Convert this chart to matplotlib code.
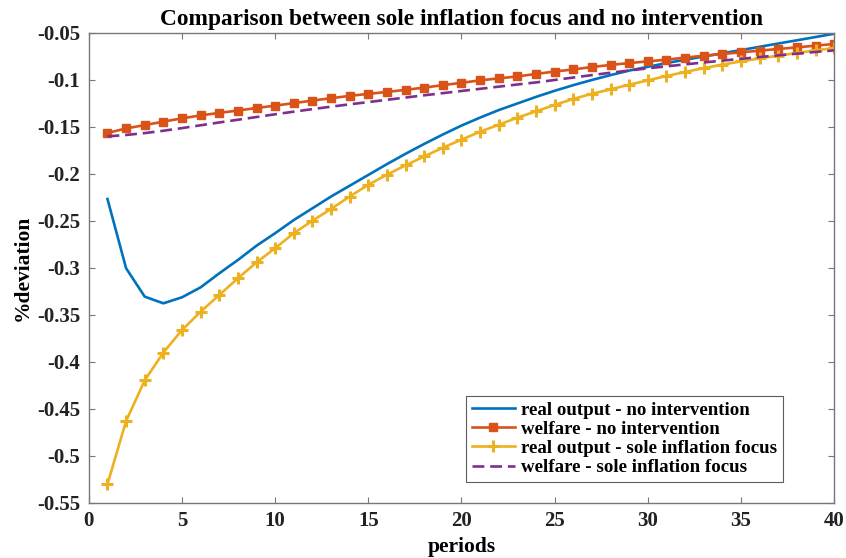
import numpy as np
import matplotlib
matplotlib.use("Agg")
import matplotlib.pyplot as plt

plt.rcParams['font.family'] = ['Liberation Serif', 'DejaVu Serif']
plt.rcParams['font.weight'] = 'bold'

periods = np.arange(1, 41)

# real output - no intervention
output_no_int = [-0.2266, -0.3003, -0.3305, -0.3376, -0.3312, -0.3206, -0.3057, -0.2915,
                 -0.2763, -0.2630, -0.2490, -0.2365, -0.2240, -0.2125, -0.2010, -0.1895,
                 -0.1785, -0.1680, -0.1580, -0.1485, -0.1400, -0.1320, -0.1250, -0.1180,
                 -0.1115, -0.1055, -0.1000, -0.0948, -0.0900, -0.0860, -0.0820, -0.0785,
                 -0.0750, -0.0716, -0.0682, -0.0647, -0.0612, -0.0578, -0.0543, -0.0508]

# welfare - no intervention
welfare_no_int = [-0.1564, -0.1515, -0.1480, -0.1443, -0.1408, -0.1377, -0.1350, -0.1325,
                  -0.1298, -0.1273, -0.1246, -0.1219, -0.1194, -0.1169, -0.1148, -0.1127,
                  -0.1105, -0.1081, -0.1055, -0.1030, -0.1004, -0.0983, -0.0962, -0.0936,
                  -0.0910, -0.0888, -0.0862, -0.0840, -0.0820, -0.0802, -0.0784, -0.0762,
                  -0.0742, -0.0724, -0.0706, -0.0688, -0.0670, -0.0653, -0.0635, -0.0617]

# real output - sole inflation focus
output_infl = [-0.5300, -0.4628, -0.4195, -0.3900, -0.3660, -0.3465, -0.3287, -0.3110,
               -0.2940, -0.2790, -0.2630, -0.2497, -0.2372, -0.2240, -0.2115, -0.2007,
               -0.1908, -0.1813, -0.1720, -0.1635, -0.1550, -0.1476, -0.1400, -0.1334,
               -0.1265, -0.1202, -0.1146, -0.1100, -0.1050, -0.1004, -0.0958, -0.0915,
               -0.0874, -0.0837, -0.0802, -0.0771, -0.0741, -0.0713, -0.0685, -0.0660]

# welfare - sole inflation focus
welfare_infl = [-0.1600, -0.1585, -0.1565, -0.1540, -0.1512, -0.1482, -0.1452, -0.1423,
                -0.1394, -0.1365, -0.1337, -0.1310, -0.1284, -0.1259, -0.1235, -0.1211,
                -0.1187, -0.1163, -0.1140, -0.1117, -0.1094, -0.1071, -0.1048, -0.1026,
                -0.1000, -0.0974, -0.0948, -0.0923, -0.0899, -0.0876, -0.0855, -0.0834,
                -0.0814, -0.0794, -0.0775, -0.0756, -0.0738, -0.0720, -0.0702, -0.0685]

xticks = [0, 5, 10, 15, 20, 25, 30, 35, 40]
yticks = [-0.55, -0.5, -0.45, -0.4, -0.35, -0.3, -0.25, -0.2, -0.15, -0.1, -0.05]
ytick_labels = ['-0.55', '-0.5', '-0.45', '-0.4', '-0.35', '-0.3', '-0.25', '-0.2',
                '-0.15', '-0.1', '-0.05']

fig = plt.figure(figsize=(8.46, 5.58), dpi=100)
ax = fig.add_axes([0.105, 0.0986, 0.881, 0.8423])

ax.plot(periods, output_no_int, color='#0072BD', lw=1.9,
        label='real output - no intervention')
ax.plot(periods, welfare_no_int, color='#D95319', lw=1.9, marker='s', ms=6,
        label='welfare - no intervention')
ax.plot(periods, output_infl, color='#EDB120', lw=1.9, marker='+', ms=8, mew=2.2,
        label='real output - sole inflation focus')
ax.plot(periods, welfare_infl, color='#7E2F8E', lw=1.9, dashes=(4.5, 2.2),
        label='welfare - sole inflation focus')

ax.set_xlim(0, 40)
ax.set_ylim(-0.55, -0.05)
ax.set_xticks(xticks)
ax.set_yticks(yticks)
ax.set_yticklabels(ytick_labels)
ax.tick_params(direction='in', length=4, width=0.8, color='#777777', labelcolor='#222222',
               labelsize=15, top=True, right=True, pad=6)
for s in ax.spines.values():
    s.set_color('#777777')
    s.set_linewidth(1)

ax.set_title('Comparison between sole inflation focus and no intervention',
             fontsize=16.8, fontweight='bold', pad=6)
ax.set_xlabel('periods', fontsize=15.5, fontweight='bold', labelpad=4)
ax.set_ylabel('%deviation', fontsize=15.5, fontweight='bold', labelpad=3)

leg = ax.legend(loc='lower left', bbox_to_anchor=(0.506, 0.045), fontsize=13.6,
                frameon=True, fancybox=False, handlelength=2.3, handletextpad=0.3,
                labelspacing=0.1, borderpad=0.3, borderaxespad=0)
leg.get_frame().set_edgecolor('#333333')
leg.get_frame().set_linewidth(0.8)

fig.savefig('out.png', dpi=100)
